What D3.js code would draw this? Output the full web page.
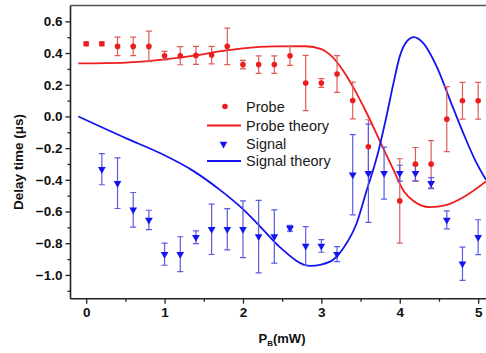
<!DOCTYPE html>
<html><head><meta charset="utf-8">
<script src="https://cdn.jsdelivr.net/npm/d3@7/dist/d3.min.js"></script>
<style>body{margin:0;background:#fff}svg{display:block}</style>
</head><body>
<svg id="c" width="486" height="353"></svg>
<script>
// ---- data ----
const probeX   = [0,0.2,0.4,0.6,0.8,1.0,1.2,1.4,1.6,1.8,2.0,2.2,2.4,2.6,2.8,3.0,3.2,3.4,3.6,4.0,4.2,4.4,4.6,4.8,5.0];
const probeY   = [0.459,0.459,0.442,0.442,0.442,0.383,0.383,0.385,0.387,0.442,0.327,0.327,0.327,0.383,0.211,0.211,0.268,0.101,-0.191,-0.533,-0.301,-0.301,-0.017,0.099,0.099];
const probeErr = [0.012,0.012,0.058,0.058,0.096,0.027,0.057,0.057,0.055,0.115,0.027,0.055,0.055,0.061,0.174,0.028,0.116,0.116,0.17,0.266,0.105,0.149,0.205,0.116,0.116];

const signalX   = [0.2,0.4,0.6,0.8,1.0,1.2,1.4,1.6,1.8,2.0,2.2,2.4,2.6,2.8,3.0,3.2,3.4,3.6,3.8,4.0,4.2,4.4,4.6,4.8,5.0];
const signalY   = [-0.333,-0.421,-0.589,-0.653,-0.869,-0.869,-0.762,-0.712,-0.712,-0.712,-0.758,-0.758,-0.705,-0.817,-0.817,-0.869,-0.368,-0.358,-0.358,-0.358,-0.358,-0.421,-0.653,-0.93,-0.762];
const signalErr = [0.098,0.16,0.109,0.061,0.07,0.11,0.04,0.159,0.13,0.179,0.229,0.168,0.018,0.122,0.04,0.047,0.253,0.31,0.164,0.05,0.05,0.035,0.057,0.105,0.11];

const probeTheoryX = [-0.1,0.5,1.0,1.4,1.7,2.0,2.4,2.8,3.0,3.11,3.27,3.4,3.58,3.75,3.92,4.05,4.18,4.38,4.6,4.81,5.1];
const probeTheoryY = [0.335,0.34,0.36,0.385,0.41,0.43,0.442,0.443,0.425,0.39,0.295,0.19,0.02,-0.16,-0.337,-0.47,-0.535,-0.572,-0.558,-0.51,-0.41];

const signalTheoryX = [-0.1,0.52,0.94,1.37,1.71,2.0,2.22,2.47,2.86,3.11,3.28,3.45,3.58,3.71,3.83,3.92,4.0,4.09,4.18,4.3,4.47,4.64,4.81,4.98,5.1];
const signalTheoryY = [0.0,-0.14,-0.231,-0.345,-0.465,-0.585,-0.695,-0.825,-0.943,-0.916,-0.831,-0.674,-0.463,-0.253,0.0,0.21,0.379,0.474,0.501,0.463,0.316,0.105,-0.105,-0.295,-0.4];

const yTicks = [-1.0,-0.8,-0.6,-0.4,-0.2,0.0,0.2,0.4,0.6];
const yMinor = [-1.1,-0.9,-0.7,-0.5,-0.3,-0.1,0.1,0.3,0.5];
const xTicks = [0,1,2,3,4,5];
const xMinor = [0.5,1.5,2.5,3.5,4.5];
const legendLabels = ["Probe","Probe theory","Signal","Signal theory"];

// ---- drawing ----
const svg = d3.select("#c");
const L = 70.5, R = 486, T = 5.5, B = 298.7;
const x = d3.scaleLinear().domain([-0.2,5.1]).range([L,R]);
const y = d3.scaleLinear().domain([-1.15,0.7]).range([B,T]);
const red = "#ee1c1c", blue = "#1414f0";
const redErr = "#e05c5c", blueErr = "#5a5ae6";
const font = "'Liberation Sans', Arial, sans-serif";

svg.append("clipPath").attr("id","clip").append("rect")
  .attr("x",L).attr("y",T).attr("width",R-L).attr("height",B-T);

// axes
const yAx = svg.append("g").attr("transform",`translate(${L},0)`)
  .call(d3.axisLeft(y).tickValues(yTicks).tickSize(5).tickPadding(3).tickFormat(d3.format(".1f")));
const yAxm = svg.append("g").attr("transform",`translate(${L},0)`)
  .call(d3.axisLeft(y).tickValues(yMinor).tickSize(3).tickFormat(""));
const xAx = svg.append("g").attr("transform",`translate(0,${B})`)
  .call(d3.axisBottom(x).tickValues(xTicks).tickSize(5).tickPadding(4).tickFormat(d3.format("d")));
const xAxm = svg.append("g").attr("transform",`translate(0,${B})`)
  .call(d3.axisBottom(x).tickValues(xMinor).tickSize(3).tickFormat(""));
[yAx,yAxm,xAx,xAxm].forEach(g=>{
  g.select(".domain").remove();
  g.selectAll("line").attr("stroke","#222").attr("stroke-width",1.3);
  g.selectAll("text").attr("font-family",font).attr("font-weight","bold").attr("font-size","13.5px").attr("fill","#111");
});
// frame lines
svg.append("line").attr("x1",L).attr("x2",L).attr("y1",T).attr("y2",B).attr("stroke","#222").attr("stroke-width",1.6);
svg.append("line").attr("x1",L).attr("x2",R).attr("y1",B).attr("y2",B).attr("stroke","#222").attr("stroke-width",1.6);
svg.append("line").attr("x1",L).attr("x2",R).attr("y1",T).attr("y2",T).attr("stroke","#555").attr("stroke-width",1.4);

// titles
svg.append("text").attr("transform","translate(23,162) rotate(-90)").attr("text-anchor","middle")
  .attr("font-family",font).attr("font-weight","bold").attr("font-size","13.5px").attr("fill","#111")
  .text("Delay time (μs)");
const xt = svg.append("text").attr("x",282).attr("y",343).attr("text-anchor","middle")
  .attr("font-family",font).attr("font-weight","bold").attr("font-size","13px").attr("fill","#111");
xt.append("tspan").text("P");
xt.append("tspan").attr("font-size","8px").attr("dy",3).text("B");
xt.append("tspan").attr("dy",-3).text("(mW)");

const plot = svg.append("g").attr("clip-path","url(#clip)");

// theory lines
const line = d3.line().x(d=>x(d[0])).y(d=>y(d[1])).curve(d3.curveMonotoneX);
plot.append("path").datum(probeTheoryX.map((v,i)=>[v,probeTheoryY[i]]))
  .attr("d",line).attr("fill","none").attr("stroke",red).attr("stroke-width",1.8);
plot.append("path").datum(signalTheoryX.map((v,i)=>[v,signalTheoryY[i]]))
  .attr("d",line).attr("fill","none").attr("stroke",blue).attr("stroke-width",1.8);

// error bars
function errBars(xs, ys, es, col){
  const g = plot.append("g").attr("stroke",col).attr("stroke-width",1.2);
  xs.forEach((xv,i)=>{
    const cx = x(xv), y1 = y(ys[i]+es[i]), y2 = y(ys[i]-es[i]);
    g.append("line").attr("x1",cx).attr("x2",cx).attr("y1",y1).attr("y2",y2);
    g.append("line").attr("x1",cx-3).attr("x2",cx+3).attr("y1",y1).attr("y2",y1);
    g.append("line").attr("x1",cx-3).attr("x2",cx+3).attr("y1",y2).attr("y2",y2);
  });
}
errBars(probeX, probeY, probeErr, redErr);
errBars(signalX, signalY, signalErr, blueErr);

// markers
plot.append("g").selectAll("circle").data(probeX).join("circle")
  .attr("cx",d=>x(d)).attr("cy",(d,i)=>y(probeY[i])).attr("r",2.8).attr("fill",red);
const tri = d3.symbol().type(d3.symbolTriangle).size(26);
plot.append("g").selectAll("path").data(signalX).join("path")
  .attr("d",tri).attr("fill",blue)
  .attr("transform",(d,i)=>`translate(${x(d)},${y(signalY[i])}) rotate(180)`);

// legend
const lg = svg.append("g").attr("font-family",font).attr("font-size","14.5px").attr("fill","#1a1a1a");
const ly = [106.5,125.5,144,161];
lg.append("circle").attr("cx",225).attr("cy",ly[0]).attr("r",2.8).attr("fill",red);
lg.append("line").attr("x1",207).attr("x2",241).attr("y1",ly[1]).attr("y2",ly[1]).attr("stroke",red).attr("stroke-width",1.8);
lg.append("path").attr("d",tri).attr("fill",blue).attr("transform",`translate(223.5,${ly[2]}) rotate(180)`);
lg.append("line").attr("x1",207).attr("x2",241).attr("y1",ly[3]).attr("y2",ly[3]).attr("stroke",blue).attr("stroke-width",1.8);
legendLabels.forEach((t,i)=>{
  lg.append("text").attr("x",246).attr("y",ly[i]).attr("dy","0.35em").text(t);
});
</script>
</body></html>
